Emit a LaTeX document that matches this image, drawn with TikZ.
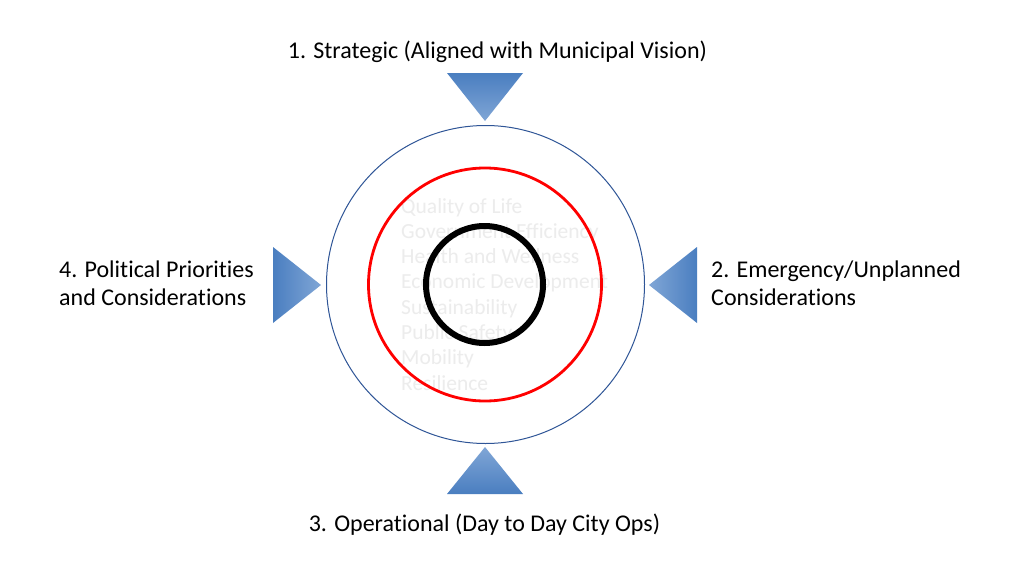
\documentclass[tikz,border=0pt]{standalone}
\usepackage{fontspec}
\setmainfont[Ligatures=NoCommon]{Carlito}
\definecolor{tridark}{RGB}{74,126,192}
\definecolor{trilight}{RGB}{128,166,214}
\definecolor{outerblue}{RGB}{47,85,151}
\definecolor{faint}{RGB}{236,236,236}
\begin{document}
\begin{tikzpicture}[x=1pt,y=-1pt,
  lbl/.style={font=\fontsize{24}{28}\selectfont, inner sep=0pt, text=black},
  inner/.style={font=\fontsize{21.5}{25.3}\selectfont, inner sep=0pt, text=faint, anchor=base west},
  ring/.style={circle, inner sep=0pt, fill=none}]
\useasboundingbox (0,0) rectangle (1028,562);
\fill[white] (0,0) rectangle (1028,562);
% faint list
\foreach \t [count=\i] in {Quality of Life,Government Efficiency,Health and Wellness,Economic Development,Sustainability,Public Safety,Mobility,Resilience}
  \node[inner] (item\i) at (401,213+25.3*\i-25.3) {\t};
% circles
\node[ring, draw=outerblue, line width=1pt, minimum size=318pt] (outer) at (485.5,284.5) {};
\node[ring, draw=red, line width=2.8pt, minimum size=233pt] (mid) at (485,284.5) {};
\node[ring, draw=black, line width=6pt, minimum size=117pt] (core) at (484.5,284.5) {};
% triangles
\coordinate (tA) at (485,121);
\shade[top color=tridark, bottom color=trilight] (447,73) -- (523,73) -- (tA) -- cycle;
\coordinate (bA) at (485,447);
\shade[top color=trilight, bottom color=tridark] (447,494) -- (523,494) -- (bA) -- cycle;
\coordinate (lA) at (321,285);
\shade[left color=tridark, right color=trilight] (273,247) -- (273,323) -- (lA) -- cycle;
\coordinate (rA) at (649,285);
\shade[left color=trilight, right color=tridark] (697,247) -- (697,323) -- (rA) -- cycle;
% labels
\node[lbl, anchor=base] (top) at (497.5,58) {1. Strategic (Aligned with Municipal Vision)};
\node[lbl, anchor=base] (bottom) at (484.5,531) {3. Operational (Day to Day City Ops)};
\node[lbl, anchor=base west] (left1) at (59,277) {4. Political Priorities};
\node[lbl, anchor=base west] (left2) at (59,305) {and Considerations};
\node[lbl, anchor=base west] (right1) at (711,277) {2. Emergency/Unplanned};
\node[lbl, anchor=base west] (right2) at (711,305) {Considerations};
\end{tikzpicture}
\end{document}
